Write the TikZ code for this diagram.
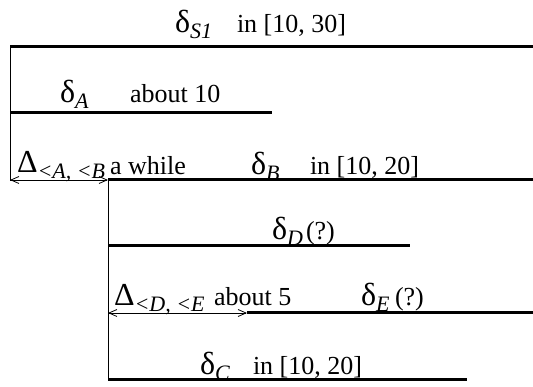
\documentclass[tikz,border=0pt]{standalone}
\usepackage{fontspec}
\setmainfont{Liberation Serif}
\usetikzlibrary{arrows.meta}
\newcommand{\grk}[2]{{\fontsize{32}{32}\selectfont #1}\raisebox{-6pt}{\fontsize{22}{22}\selectfont\itshape #2}}
\newcommand{\txt}[1]{{\fontsize{26}{26}\selectfont #1}}
\begin{document}
\begin{tikzpicture}[x=1pt,y=-1pt,
  lbl/.style={anchor=base west,inner sep=0pt,outer sep=0pt},
  bar/.style={line width=3pt},
  rule/.style={line width=0.9pt},
  span/.style={line width=0.8pt,{Straight Barb[length=8pt,width=7pt]}-{Straight Barb[length=8pt,width=7pt]}}]
\useasboundingbox (0,0) rectangle (533,387);
% coordinates
\coordinate (s1l) at (10,47);  \coordinate (s1r) at (533,47);
\coordinate (al) at (10,113);  \coordinate (ar) at (272,113);
\coordinate (v1b) at (10,181);
\coordinate (bl) at (108,180); \coordinate (br) at (533,180);
\coordinate (v2b) at (108,381);
\coordinate (dl) at (108,246); \coordinate (dr) at (410,246);
\coordinate (el) at (247,313); \coordinate (er) at (533,313);
\coordinate (ea) at (108,313);
\coordinate (cl) at (108,380); \coordinate (cr) at (467,380);
\coordinate (aa) at (10,180);
% lines
\draw[rule] (s1l) -- (v1b);
\draw[rule] (bl) -- (v2b);
\draw[bar] (s1l) -- (s1r);
\draw[bar] (al) -- (ar);
\draw[bar] (bl) -- (br);
\draw[bar] (dl) -- (dr);
\draw[bar] (el) -- (er);
\draw[bar] (cl) -- (cr);
\draw[span] (aa) -- (bl);
\draw[span] (ea) -- (el);
% labels
\node[lbl] (ts1) at (175,33) {\grk{δ}{S1}};
\node[lbl] (ts1r) at (237,33) {\txt{in [10, 30]}};
\node[lbl] (ta) at (60,103) {\grk{δ}{A}};
\node[lbl] (tar) at (130,103) {\txt{about 10}};
\node[lbl] (tab) at (17,173) {\grk{Δ}{<A, <B}};
\node[lbl] (tabr) at (110,175) {\txt{a while}};
\node[lbl] (tb) at (251,175) {\grk{δ}{B}};
\node[lbl] (tbr) at (310,175) {\txt{in [10, 20]}};
\node[lbl] (td) at (272,240) {\grk{δ}{D}};
\node[lbl] (tdr) at (306,240) {\txt{(?)}};
\node[lbl] (tde) at (114,306) {\grk{Δ}{<D, <E}};
\node[lbl] (tder) at (214,306) {\txt{about 5}};
\node[lbl] (te) at (361,306) {\grk{δ}{E}};
\node[lbl] (ter) at (395,306) {\txt{(?)}};
\node[lbl] (tc) at (200,374) {\grk{δ}{C}};
\node[lbl] (tcr) at (253,374) {\txt{in [10, 20]}};
\end{tikzpicture}
\end{document}
